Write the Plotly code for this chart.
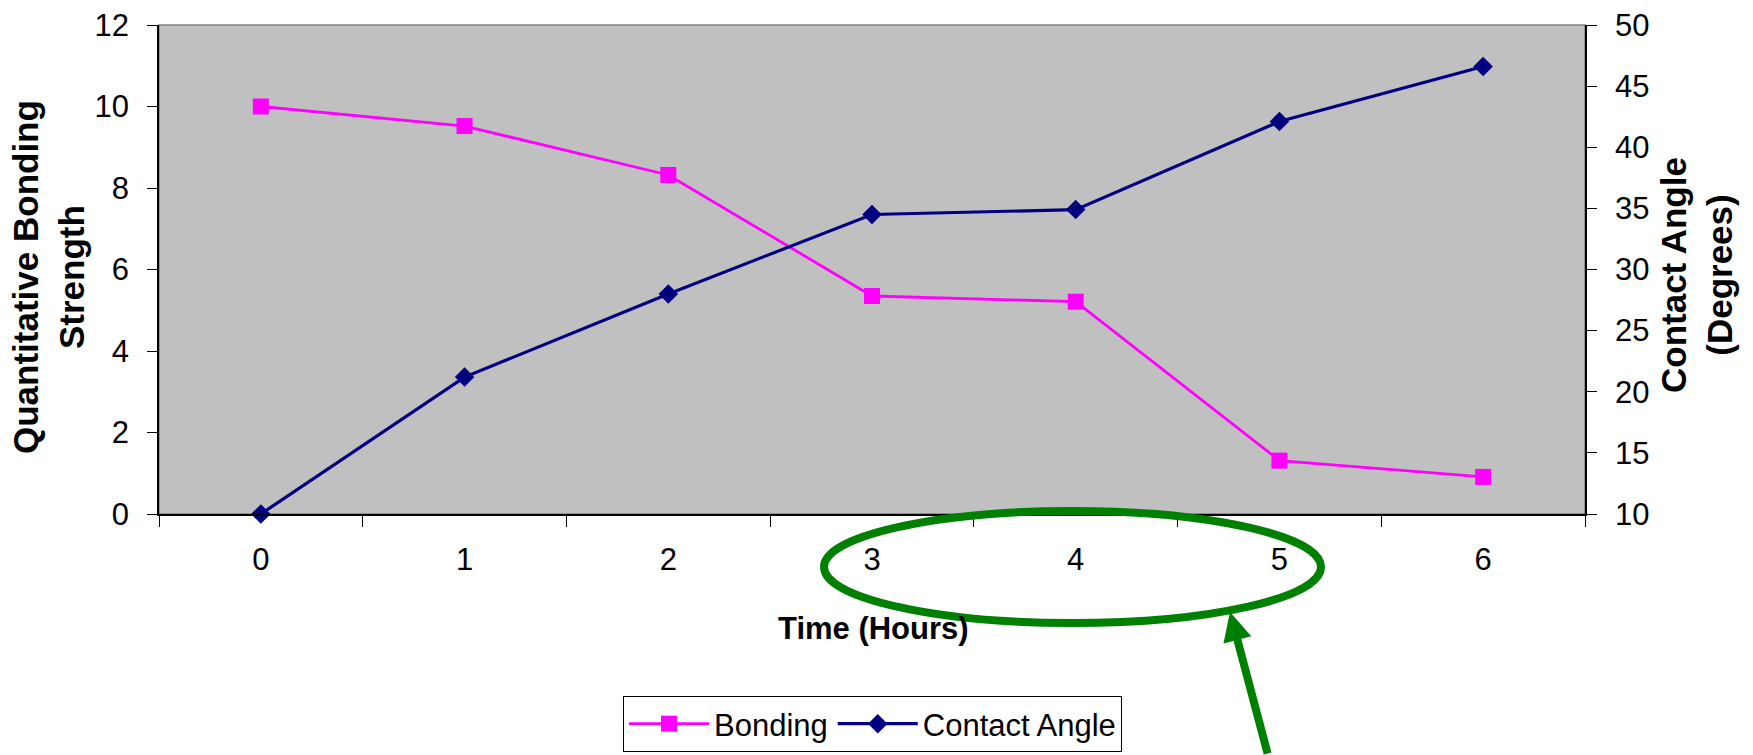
import plotly.graph_objects as go

# ---- data ----
hours = [0, 1, 2, 3, 4, 5, 6]
hour_labels = ["0", "1", "2", "3", "4", "5", "6"]
bonding = [10.0, 9.52, 8.32, 5.35, 5.21, 1.31, 0.91]
contact_angle = [10.0, 21.2, 28.0, 34.5, 34.9, 42.1, 46.6]

# ---- page geometry (px) ----
W, H = 1753, 755
ML, MR, MT, MB = 159, 168, 25, 241
PW, PH = W - ML - MR, H - MT - MB

def px_x(px):
    """page x (px) -> paper fraction"""
    return (px - ML) / PW

def px_y(py):
    """page y (px, from top) -> paper fraction"""
    return (H - MB - py) / PH

def px_cat(px):
    """page x (px) -> category-axis value"""
    return (px - ML) / PW * len(hours) - 0.5

boundaries = [h - 0.5 for h in hours] + [hours[-1] + 0.5]
xrange_ = [boundaries[0], boundaries[-1]]

FONT = "Arial, Liberation Sans, sans-serif"
PINK = "#FF00FF"
NAVY = "#000080"
GREEN = "#008000"

fig = go.Figure()
fig.add_trace(go.Scatter(
    x=hours, y=bonding, name="Bonding", mode="lines+markers",
    line=dict(color=PINK, width=2.8),
    marker=dict(symbol="square", size=16, color=PINK, line=dict(width=0)),
    cliponaxis=False, yaxis="y",
))
fig.add_trace(go.Scatter(
    x=hours, y=contact_angle, name="Contact Angle", mode="lines+markers",
    line=dict(color=NAVY, width=3.2),
    marker=dict(symbol="diamond", size=15, color=NAVY, line=dict(width=0)),
    cliponaxis=False, yaxis="y2",
))

tickfont = dict(family=FONT, size=31, color="black")
common = dict(showgrid=False, zeroline=False, tickcolor="black", tickwidth=1.2)

fig.update_layout(
    width=W, height=H,
    margin=dict(l=ML, r=MR, t=MT, b=MB, autoexpand=False),
    paper_bgcolor="white",
    plot_bgcolor="#C0C0C0",
    font=dict(family=FONT, color="black"),
    showlegend=True,
    xaxis=dict(
        range=xrange_, tickmode="array", tickvals=hours, ticktext=hour_labels,
        ticks="", showline=True, linecolor="black", linewidth=1.5,
        tickfont=tickfont, ticklabelstandoff=17,
        minor=dict(tickmode="array", tickvals=boundaries, ticks="outside",
                   ticklen=11, tickcolor="black", tickwidth=1.2, showgrid=False),
        showgrid=False, zeroline=False,
    ),
    xaxis2=dict(
        overlaying="x", anchor="y", side="bottom", range=xrange_,
        tickmode="array", tickvals=boundaries, ticks="inside", ticklen=11,
        showticklabels=False, showline=False, **common,
    ),
    yaxis=dict(
        range=[0, 12], tick0=0, dtick=2, ticks="outside", ticklen=10,
        showline=True, linecolor="black", linewidth=1.5,
        tickfont=tickfont, ticklabelstandoff=12, **common,
    ),
    yaxis2=dict(
        overlaying="y", side="right", anchor="x",
        range=[10, 50], tick0=10, dtick=5, ticks="outside", ticklen=10,
        showline=True, linecolor="black", linewidth=1.5,
        tickfont=tickfont, ticklabelstandoff=12, **common,
    ),
    yaxis3=dict(
        overlaying="y", side="left", anchor="x", range=[0, 12], tick0=0, dtick=2,
        ticks="inside", ticklen=10, showticklabels=False, showline=False, **common,
    ),
    yaxis4=dict(
        overlaying="y", side="right", anchor="x", range=[10, 50], tick0=10, dtick=5,
        ticks="inside", ticklen=10, showticklabels=False, showline=False, **common,
    ),
    legend=dict(
        orientation="h", x=px_x(623), y=px_y(696), xanchor="left", yanchor="top",
        bgcolor="white", bordercolor="black", borderwidth=1,
        font=dict(family=FONT, size=31, color="black"),
        itemwidth=80,
    ),
)

# plot-area frame
fig.add_shape(type="rect", xref="paper", yref="paper", x0=0, x1=1, y0=0, y1=1,
              line=dict(color="#808080", width=1.5), layer="below")

# axis titles
fig.add_annotation(
    text="<b>Quantitative Bonding<br>Strength</b>", textangle=-90,
    xref="paper", yref="paper", x=px_x(48), y=px_y(277),
    xanchor="center", yanchor="middle", showarrow=False,
    font=dict(family=FONT, size=35, color="black"),
)
fig.add_annotation(
    text="<b>Contact Angle<br>(Degrees)</b>", textangle=-90,
    xref="paper", yref="paper", x=px_x(1696), y=px_y(275),
    xanchor="center", yanchor="middle", showarrow=False,
    font=dict(family=FONT, size=35, color="black"),
)
fig.add_annotation(
    text="<b>Time (Hours)</b>",
    xref="paper", yref="paper", x=px_x(873), y=px_y(628),
    xanchor="center", yanchor="middle", showarrow=False,
    font=dict(family=FONT, size=31, color="black"),
)

# highlight ellipse around hours 3-5 and pointer arrow
fig.add_shape(type="circle", xref="x", yref="paper",
              x0=px_cat(824), x1=px_cat(1321), y0=px_y(511), y1=px_y(623),
              line=dict(color=GREEN, width=8), layer="above")
fig.add_annotation(
    x=px_cat(1230), y=px_y(612), xref="x", yref="paper",
    ax=38, ay=165, axref="pixel", ayref="pixel",
    showarrow=True, arrowhead=2, arrowsize=0.72, arrowwidth=8,
    arrowcolor=GREEN, text="",
)

fig.write_html("out.html")
